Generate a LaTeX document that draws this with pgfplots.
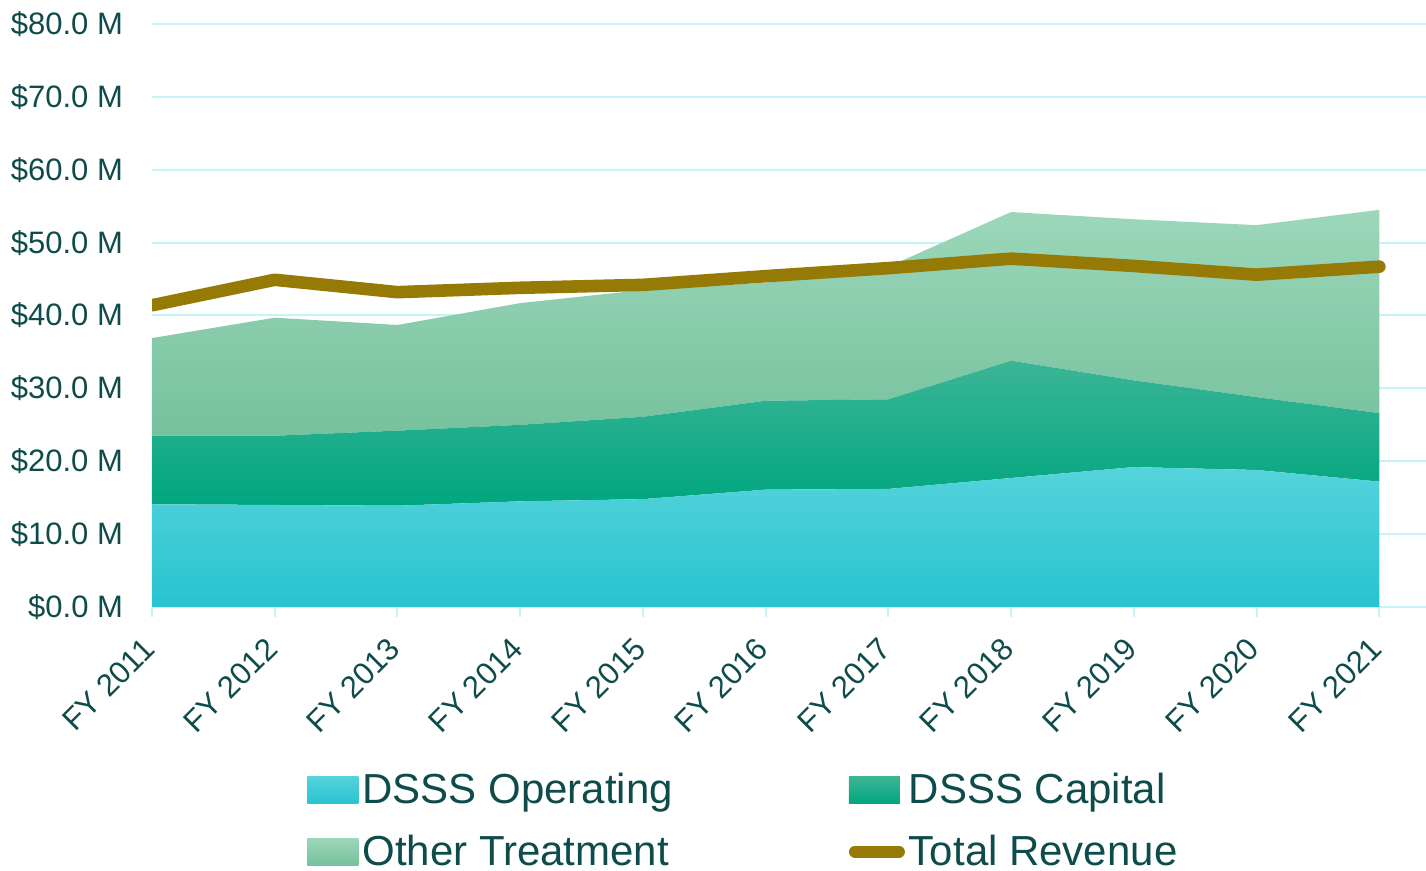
\documentclass[border=0pt]{standalone}
\usepackage{pgfplots}
\pgfplotsset{compat=1.18}
\usepackage{fontspec}
\setmainfont{Liberation Sans}
\definecolor{textc}{HTML}{0E4B4B}
\definecolor{gridc}{HTML}{C5F4F8}
\definecolor{opTop}{HTML}{55D3DC}
\definecolor{opBot}{HTML}{27C3CF}
\definecolor{capTop}{HTML}{3BB596}
\definecolor{capBot}{HTML}{00A67F}
\definecolor{othTop}{HTML}{9CD7BA}
\definecolor{othBot}{HTML}{76C19E}
\definecolor{revc}{HTML}{957A05}
\pgfplotsset{
  common/.style={
    at={(76pt,132pt)}, anchor=south west,
    scale only axis, width=637pt, height=291.5pt,
    xmin=0, xmax=10.38, ymin=0, ymax=80,
  }
}
\begin{document}
\begin{tikzpicture}
\useasboundingbox (0,0) rectangle (713pt,435.5pt);
\begin{axis}[
  common,
  stack plots=y,
  axis x line*=bottom, axis y line*=left,
  y axis line style={draw=none},
  x axis line style={gridc, line width=1pt},
  ymajorgrids, major grid style={gridc, line width=1pt},
  ytick={0,10,...,80},
  yticklabels={\$0.0 M,\$10.0 M,\$20.0 M,\$30.0 M,\$40.0 M,\$50.0 M,\$60.0 M,\$70.0 M,\$80.0 M},
  ytick style={draw=none},
  xtick={0,...,10},
  xticklabels={FY 2011,FY 2012,FY 2013,FY 2014,FY 2015,FY 2016,FY 2017,FY 2018,FY 2019,FY 2020,FY 2021},
  xtick style={gridc, line width=1pt},
  tick align=outside, major tick length=5pt,
  yticklabel style={font=\fontsize{15.5}{18}\selectfont, text=textc, anchor=east, xshift=-6pt},
  xticklabel style={font=\fontsize{15.5}{18}\selectfont, text=textc, rotate=45, anchor=east, xshift=-7pt, yshift=-8.4pt},
  legend columns=2,
  legend style={at={(0.1217,-0.278)}, anchor=north west, draw=none, fill=none,
    font=\fontsize{21}{25}\selectfont, text=textc,
    /tikz/every even column/.append style={column sep=86pt},
    row sep=10pt, inner sep=0pt},
  legend cell align=left,
]
\addplot[draw=none, shade, top color=opTop, bottom color=opBot,
  legend image code/.code={\path[shade, top color=opTop, bottom color=opBot] (0pt,-6.75pt) rectangle (25.5pt,6.75pt);}]
  coordinates {(0,14.1)(1,14.0)(2,13.9)(3,14.5)(4,14.8)(5,16.1)(6,16.2)(7,17.7)(8,19.2)(9,18.8)(10,17.2)} \closedcycle;
\addlegendentry{DSSS Operating}
\addplot[draw=none, shade, top color=capTop, bottom color=capBot,
  legend image code/.code={\path[shade, top color=capTop, bottom color=capBot] (0pt,-6.75pt) rectangle (25.5pt,6.75pt);}]
  coordinates {(0,9.4)(1,9.5)(2,10.3)(3,10.5)(4,11.3)(5,12.2)(6,12.3)(7,16.1)(8,11.9)(9,10.0)(10,9.4)} \closedcycle;
\addlegendentry{DSSS Capital}
\addplot[draw=none, shade, top color=othTop, bottom color=othBot,
  legend image code/.code={\path[shade, top color=othTop, bottom color=othBot] (0pt,-6.75pt) rectangle (25.5pt,6.75pt);}]
  coordinates {(0,13.4)(1,16.2)(2,14.5)(3,16.7)(4,17.4)(5,16.2)(6,18.2)(7,20.4)(8,22.1)(9,23.6)(10,27.9)} \closedcycle;
\addlegendentry{Other Treatment}
\addlegendimage{legend image code/.code={\draw[revc, line width=6pt, line cap=round] (3pt,0pt) -- (25pt,0pt);}}
\addlegendentry{Total Revenue}
\end{axis}
\begin{axis}[
  common,
  axis lines=none, ticks=none,
]
\addplot[color=revc, line width=6.3pt, line cap=round, line join=round]
  coordinates {(0,41.4)(1,44.9)(2,43.2)(3,43.8)(4,44.2)(5,45.4)(6,46.5)(7,47.8)(8,46.8)(9,45.6)(10,46.7)};
\end{axis}
\end{tikzpicture}
\end{document}
